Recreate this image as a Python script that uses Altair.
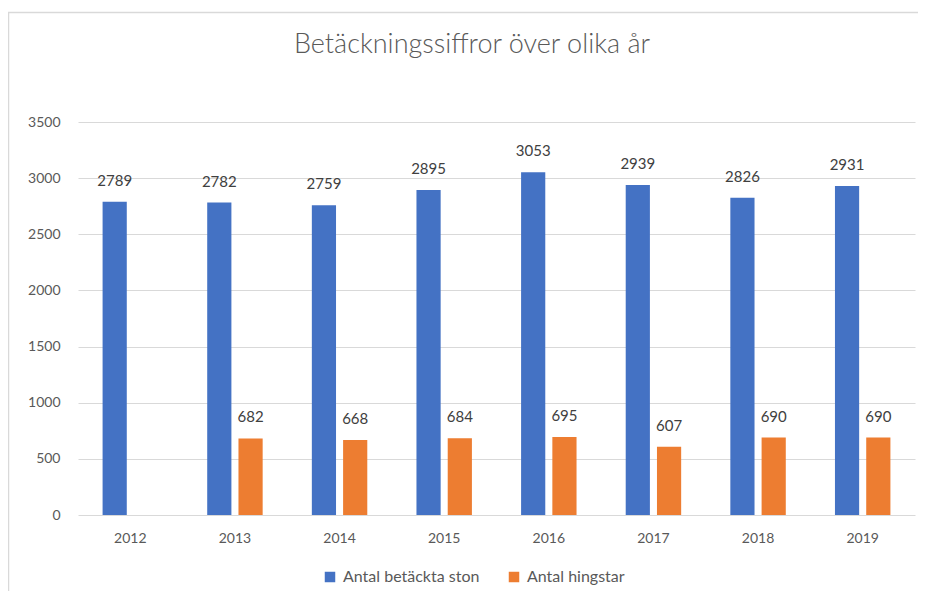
import altair as alt
import pandas as pd

years = ["2012", "2013", "2014", "2015", "2016", "2017", "2018", "2019"]
ston = [2789, 2782, 2759, 2895, 3053, 2939, 2826, 2931]
hingstar = [None, 682, 668, 684, 695, 607, 690, 690]
series_names = ["Antal betäckta ston", "Antal hingstar"]
colors = ["#4472C4", "#ED7D31"]
y_ticks = [0, 500, 1000, 1500, 2000, 2500, 3000, 3500]
title_text = "Betäckningssiffror över olika år"

rows = []
for y, a, b in zip(years, ston, hingstar):
    rows.append({"year": y, "serie": series_names[0], "value": a})
    if b is not None:
        rows.append({"year": y, "serie": series_names[1], "value": b})
df = pd.DataFrame(rows)

FONT = "Lato"

x = alt.X("year:N", title=None, sort=years,
          scale=alt.Scale(paddingInner=0.47, paddingOuter=0.235),
          axis=alt.Axis(labelAngle=0, ticks=False, domain=False, labelPadding=16,
                        labelFontSize=14, labelColor="#595959", labelFont=FONT))
xo = alt.XOffset("serie:N", sort=series_names,
                 scale=alt.Scale(paddingInner=0.226, paddingOuter=0))
y = alt.Y("value:Q", title=None,
          scale=alt.Scale(domain=[0, 3500], nice=False),
          axis=alt.Axis(values=y_ticks, ticks=False, domain=False, labelPadding=18,
                        format="d",
                        labelFontSize=14, labelColor="#595959", labelFont=FONT,
                        gridColor="#D9D9D9", gridWidth=1))

border = alt.Chart(alt.Data(values=[{}])).mark_rect(
    fill="white", fillOpacity=0, stroke="#D9D9D9", strokeWidth=1.5
).encode(
    x=alt.value(-69.5), x2=alt.value(900), y=alt.value(-109.5), y2=alt.value(520)
)

title = alt.Chart(alt.Data(values=[{"t": title_text}])).mark_text(
    fontSize=27, font=FONT, fontWeight=300, color="#595959", baseline="middle",
    align="center"
).encode(x=alt.value(394), y=alt.value(-77), text="t:N")

bars = alt.Chart(df).mark_bar().encode(
    x=x, xOffset=xo, y=y,
    color=alt.Color("serie:N", sort=series_names,
                    scale=alt.Scale(domain=series_names, range=colors),
                    legend=alt.Legend(title=None, orient="none", direction="horizontal",
                                      legendX=244, legendY=447, symbolType="square",
                                      symbolSize=110, labelFontSize=16, labelFont=FONT,
                                      labelColor="#595959", columnPadding=26,
                                      symbolStrokeWidth=0, labelOffset=5)),
)

labels = alt.Chart(df).mark_text(baseline="middle", dy=-21, fontSize=15, font=FONT,
                                 color="#404040").encode(
    x=x, xOffset=xo, y=y, text=alt.Text("value:Q", format="d"),
)

chart = alt.layer(border, title, bars, labels).properties(
    width=837, height=393,
    autosize=alt.AutoSizeParams(type="none"),
    padding={"left": 70, "top": 114, "right": 3, "bottom": 76},
).configure(background="white").configure_view(stroke=None)

chart.save("out.html", embed_options={"renderer": "svg", "actions": False})
